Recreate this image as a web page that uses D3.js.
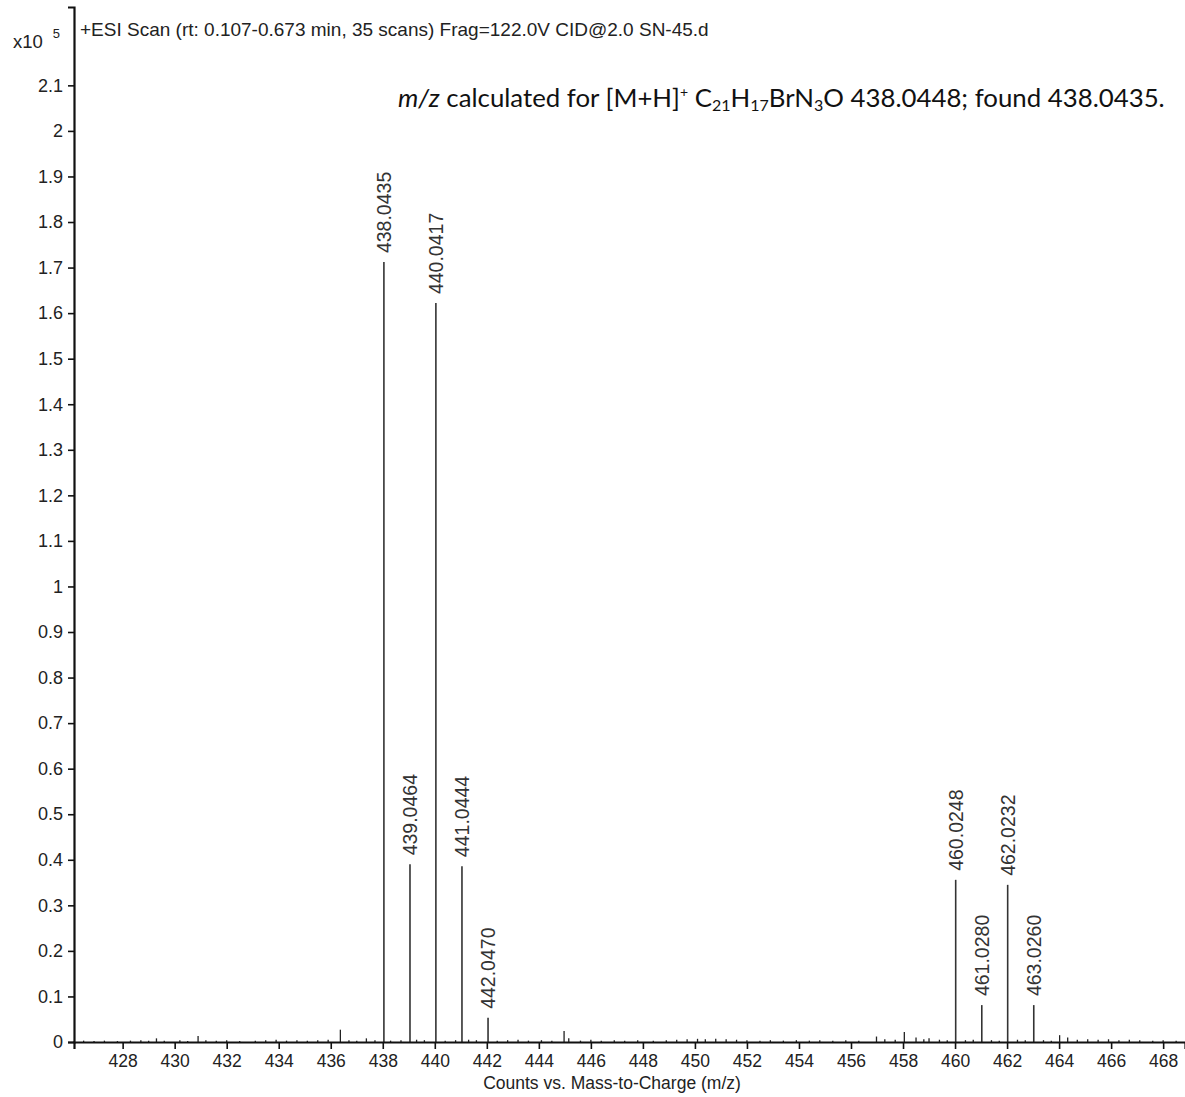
<!DOCTYPE html>
<html>
<head>
<meta charset="utf-8">
<script src="https://cdn.jsdelivr.net/npm/d3@7"></script>
<style>
  html, body { margin: 0; padding: 0; background: #fff; }
  svg { display: block; }
</style>
</head>
<body>
<svg id="chart" width="1185" height="1097"></svg>
<script>
// Labelled centroid peaks of the spectrum (m/z, counts in units of 10^5)
const peakMz = [438.0435, 439.0464, 440.0417, 441.0444, 442.0470, 460.0248, 461.0280, 462.0232, 463.0260];
const peakIntensity = [1.712, 0.390, 1.622, 0.386, 0.053, 0.356, 0.081, 0.345, 0.081];
const peakLabels = ["438.0435", "439.0464", "440.0417", "441.0444", "442.0470", "460.0248", "461.0280", "462.0232", "463.0260"];

// Unlabelled baseline signal
const noiseMz = [426.5, 426.9, 427.3, 427.8, 428.3, 428.7, 429.0, 429.3, 429.6, 430.2, 430.5, 430.9, 431.2, 431.6, 432.0,
  432.5, 433.1, 433.5, 433.9, 434.3, 434.7, 435.1, 435.5, 435.9, 436.37, 436.7, 437.0, 437.37, 437.7, 438.3, 438.7,
  439.3, 439.6, 440.4, 440.8, 441.3, 441.6, 442.4, 442.8, 443.2, 443.6, 444.1, 444.5, 444.97, 445.15, 445.6, 446.0,
  446.4, 446.9, 447.3, 447.8, 448.4, 448.9, 449.3, 449.7, 450.1, 450.4, 450.8, 451.2, 451.6, 452.0, 452.5, 452.9,
  453.4, 453.9, 454.4, 454.8, 455.3, 455.8, 456.3, 456.98, 457.3, 457.7, 458.05, 458.5, 458.8, 459.0, 459.4, 459.7,
  460.4, 460.7, 461.4, 461.7, 462.4, 462.7, 463.4, 463.7, 464.02, 464.33, 464.7, 465.1, 465.5, 465.9, 466.3, 466.7,
  467.1, 467.6, 468.0, 468.5];
const noiseIntensity = [0.003, 0.002, 0.003, 0.002, 0.003, 0.004, 0.003, 0.008, 0.003, 0.004, 0.002, 0.013, 0.004, 0.003, 0.004,
  0.002, 0.003, 0.004, 0.005, 0.003, 0.004, 0.003, 0.004, 0.005, 0.027, 0.004, 0.003, 0.008, 0.004, 0.003, 0.004,
  0.005, 0.004, 0.003, 0.004, 0.005, 0.004, 0.003, 0.004, 0.005, 0.003, 0.004, 0.003, 0.024, 0.008, 0.003, 0.005,
  0.003, 0.004, 0.003, 0.004, 0.003, 0.004, 0.005, 0.006, 0.007, 0.006, 0.007, 0.006, 0.005, 0.004, 0.003, 0.004,
  0.003, 0.004, 0.003, 0.004, 0.003, 0.004, 0.003, 0.012, 0.006, 0.005, 0.022, 0.010, 0.006, 0.008, 0.005, 0.004,
  0.004, 0.005, 0.004, 0.003, 0.005, 0.004, 0.004, 0.003, 0.015, 0.010, 0.005, 0.006, 0.005, 0.006, 0.004, 0.005,
  0.004, 0.003, 0.004, 0.003];

const xTicks = [428, 430, 432, 434, 436, 438, 440, 442, 444, 446, 448, 450, 452, 454, 456, 458, 460, 462, 464, 466, 468];
const yTicks = [0, 0.1, 0.2, 0.3, 0.4, 0.5, 0.6, 0.7, 0.8, 0.9, 1, 1.1, 1.2, 1.3, 1.4, 1.5, 1.6, 1.7, 1.8, 1.9, 2, 2.1];

const svg = d3.select("#chart");
const sans = "'Liberation Sans', Arial, sans-serif";

const x = d3.scaleLinear().domain([426.13, 468.84]).range([74, 1185]);
const y = d3.scaleLinear().domain([0, 2.272]).range([1042, 7]);

// Noise spikes
svg.append("g")
  .selectAll("line")
  .data(noiseMz.map((m, i) => [m, noiseIntensity[i]]))
  .join("line")
  .attr("x1", d => x(d[0])).attr("x2", d => x(d[0]))
  .attr("y1", y(0)).attr("y2", d => y(d[1]))
  .attr("stroke", "#222").attr("stroke-width", 1.3);

// Labelled peaks
const peaks = peakMz.map((m, i) => ({ mz: m, v: peakIntensity[i], label: peakLabels[i] }));
svg.append("g")
  .selectAll("line")
  .data(peaks)
  .join("line")
  .attr("x1", d => x(d.mz)).attr("x2", d => x(d.mz))
  .attr("y1", y(0)).attr("y2", d => y(d.v))
  .attr("stroke", "#333").attr("stroke-width", 1.6);

svg.append("g")
  .selectAll("text")
  .data(peaks)
  .join("text")
  .attr("transform", d => `translate(${x(d.mz)},${y(d.v) - 9}) rotate(-90)`)
  .attr("dy", "0.35em")
  .attr("font-family", sans).attr("font-size", 19.5)
  .attr("fill", "#333")
  .text(d => d.label);

// Axes
const xAxis = svg.append("g")
  .attr("transform", `translate(0,${y(0)})`)
  .call(d3.axisBottom(x).tickValues(xTicks).tickSize(7).tickPadding(6).tickFormat(d3.format("d")));
xAxis.select(".domain").attr("stroke", "#111").attr("stroke-width", 2.2);
xAxis.selectAll(".tick line").attr("stroke", "#111").attr("stroke-width", 1.6);
xAxis.selectAll("text").attr("font-family", sans).attr("font-size", 17.5).attr("fill", "#222");

const yAxis = svg.append("g")
  .attr("transform", "translate(74,0)")
  .call(d3.axisLeft(y).tickValues(yTicks).tickSize(6).tickPadding(5).tickFormat(d => String(+d.toFixed(1))));
yAxis.select(".domain").attr("stroke", "#111").attr("stroke-width", 2.2);
yAxis.selectAll(".tick line").attr("stroke", "#111").attr("stroke-width", 1.6);
yAxis.selectAll("text").attr("font-family", sans).attr("font-size", 18).attr("fill", "#222");

// Axis title
svg.append("text")
  .attr("x", 612).attr("y", 1089)
  .attr("text-anchor", "middle")
  .attr("font-family", sans).attr("font-size", 17.5).attr("fill", "#222")
  .text("Counts vs. Mass-to-Charge (m/z)");

// Scale factor
const mult = svg.append("text")
  .attr("x", 13).attr("y", 48)
  .attr("font-family", sans).attr("font-size", 18.5).attr("fill", "#222");
mult.append("tspan").text("x10");
mult.append("tspan").attr("dx", 10).attr("dy", -10).attr("font-size", 13).text("5");

// Scan header
svg.append("text")
  .attr("x", 80).attr("y", 36)
  .attr("font-family", sans).attr("font-size", 19).attr("fill", "#222")
  .text("+ESI Scan (rt: 0.107-0.673 min, 35 scans) Frag=122.0V CID@2.0 SN-45.d");

// Formula annotation
const note = svg.append("text")
  .attr("x", 398).attr("y", 107)
  .attr("font-family", "Lato, 'Open Sans', sans-serif").attr("font-size", 25.8).attr("fill", "#111");
note.append("tspan").attr("font-style", "italic").text("m/z");
note.append("tspan").text(" calculated for [M+H]");
note.append("tspan").attr("font-size", 14).attr("dy", -10).text("+");
note.append("tspan").attr("dy", 10).text(" C");
note.append("tspan").attr("font-size", 16).attr("dy", 4).text("21");
note.append("tspan").attr("dy", -4).text("H");
note.append("tspan").attr("font-size", 16).attr("dy", 4).text("17");
note.append("tspan").attr("dy", -4).text("BrN");
note.append("tspan").attr("font-size", 16).attr("dy", 4).text("3");
note.append("tspan").attr("dy", -4).text("O 438.0448; found 438.0435.");
</script>
</body>
</html>
